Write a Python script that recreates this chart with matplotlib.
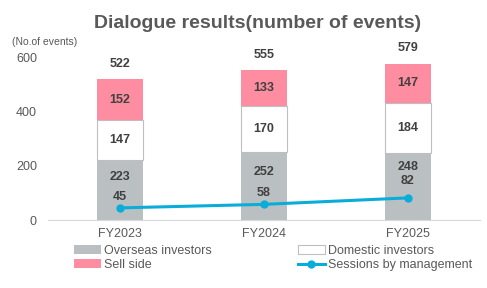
import numpy as np
import matplotlib
matplotlib.use('Agg')
import matplotlib.pyplot as plt

plt.rcParams['font.family'] = ['Liberation Sans', 'DejaVu Sans']

# Data
years = ['FY2023', 'FY2024', 'FY2025']
overseas = [223, 252, 248]
domestic = [147, 170, 184]
sell_side = [152, 133, 147]
sessions = [45, 58, 82]
totals = [522, 555, 579]

gray = '#BAC0C1'
pink = '#FF8DA2'
cyan = '#0AADDA'
txt = '#595959'
lbl = '#404040'

fig = plt.figure(figsize=(4.87, 2.88), dpi=100)
ax = fig.add_axes([0.0986, 0.236, 0.887, 0.563])

x = np.arange(len(years))
w = 0.32
ov = np.array(overseas)
do = np.array(domestic)
ss = np.array(sell_side)

b1 = ax.bar(x, ov, w, color=gray, label='Overseas investors')
b2 = ax.bar(x, do, w, bottom=ov, color='white', edgecolor='#BFBFBF', linewidth=0.8,
            label='Domestic investors')
b3 = ax.bar(x, ss, w, bottom=ov + do, color=pink, label='Sell side')
ln, = ax.plot(x, sessions, color=cyan, lw=2.2, marker='o', ms=5, label='Sessions by management')

# segment labels
font = dict(ha='center', va='center', fontsize=9, fontweight='bold', color=lbl)
for i in range(len(years)):
    off = 0.79 if i == 2 else 0.71
    ax.text(x[i], ov[i] * off, str(overseas[i]), **font)
    ax.text(x[i], ov[i] + do[i] / 2, str(domestic[i]), **font)
    ax.text(x[i], ov[i] + do[i] + ss[i] / 2, str(sell_side[i]), **font)
    ax.annotate(str(totals[i]), (x[i], totals[i]), xytext=(0, 11), textcoords='offset points',
                ha='center', va='center', fontsize=9, fontweight='bold', color=lbl,
                annotation_clip=False)
    dy = 12 if i == 2 else 8
    ax.annotate(str(sessions[i]), (x[i], sessions[i]), xytext=(0, dy), textcoords='offset points',
                ha='center', va='center', fontsize=9, fontweight='bold', color=lbl)

ax.set_xlim(-0.5, 2.5)
ax.set_ylim(0, 600)
ax.set_yticks([0, 200, 400, 600])
ax.set_xticks(x)
ax.set_xticklabels(years)
ax.tick_params(axis='both', length=0, labelsize=9, colors=txt)
ax.tick_params(axis='y', pad=8)
ax.tick_params(axis='x', pad=6)
for s in ['top', 'right', 'left']:
    ax.spines[s].set_visible(False)
ax.spines['bottom'].set_color('#D9D9D9')

fig.text(0.528, 0.918, 'Dialogue results(number of events)', ha='center', va='center',
         fontsize=14, fontweight='bold', color=txt)
fig.text(0.025, 0.855, '(No.of events)', ha='left', va='center', fontsize=7.5, color=txt)

fig.legend(handles=[b1, b3, b2, ln], ncol=2, loc='center', bbox_to_anchor=(0.56, 0.104),
           frameon=False, fontsize=9, labelcolor=txt, handlelength=2.2, handletextpad=0.2,
           columnspacing=6.9, labelspacing=0.15, borderpad=0)

fig.savefig('out.png', dpi=100)
